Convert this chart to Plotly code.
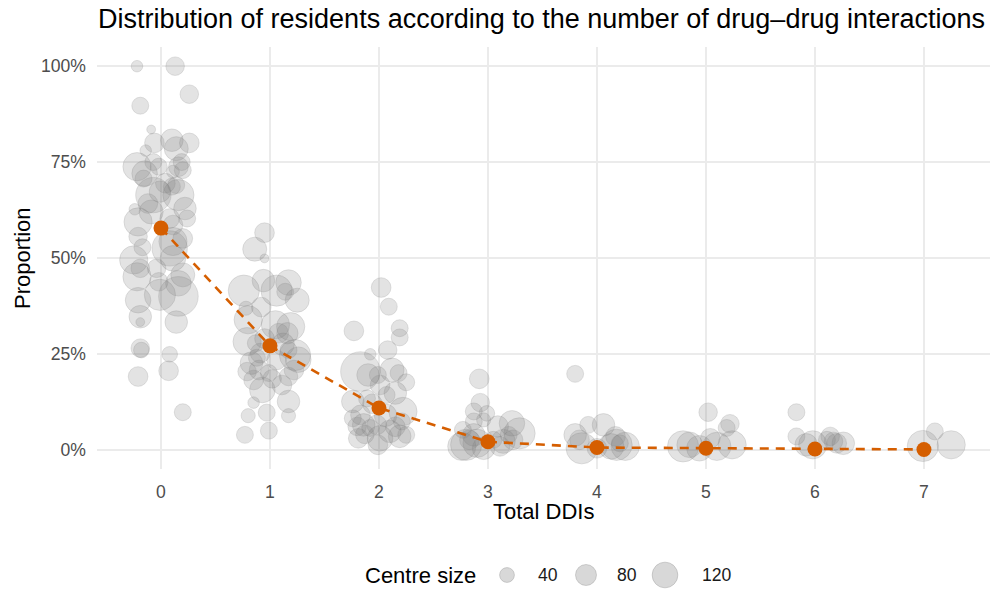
import plotly.graph_objects as go

# ---------------- data ----------------
# Per-centre proportion of residents for each number of DDIs (jittered horizontally)
ddi_count = (
    [0] * 58 + [1] * 43 + [2] * 36 + [3] * 21 + [4] * 12 + [5] * 9 + [6] * 9 + [7] * 3
)
jitter = [
    # 0 DDIs
    -0.22, 0.13, 0.26, -0.19, -0.09, -0.06, 0.10, 0.26, -0.14, 0.14,
    -0.22, -0.15, -0.07, -0.02, 0.19, 0.20, 0.16, 0.11, -0.16, 0.04,
    0.14, -0.07, -0.01, 0.16, 0.10, -0.12, -0.09, -0.24, 0.22, 0.24,
    -0.21, 0.08, 0.11, -0.21, 0.20, 0.11, -0.17, 0.08, -0.25, -0.19,
    -0.22, -0.04, 0.11, 0.20, -0.01, 0.16, 0.16, -0.02, -0.21, -0.19,
    -0.19, 0.14, -0.19, -0.18, 0.08, 0.07, -0.21, 0.20,
    # 1 DDI
    -0.05, -0.14, -0.05, -0.06, -0.24, 0.06, 0.17, 0.14, 0.25, -0.08,
    -0.22, -0.20, 0.05, 0.19, 0.16, 0.08, -0.21, -0.13, 0.23, -0.09,
    0.06, 0.17, -0.17, -0.21, -0.10, 0.22, -0.15, -0.01, 0.17, -0.07,
    0.11, 0.17, -0.15, -0.03, -0.20, 0.17, -0.01, -0.23, -0.05, 0.12,
    -0.12, 0.02, 0.26,
    # 2 DDIs
    0.02, 0.09, -0.23, 0.19, 0.19, 0.08, -0.08, -0.17, -0.10, 0.12,
    0.18, -0.01, 0.25, 0.01, -0.24, -0.11, 0.15, 0.22, 0.07, -0.17,
    -0.14, -0.02, -0.20, 0.10, 0.19, 0.01, -0.08, -0.19, 0.21, -0.01,
    -0.24, 0.25, -0.06, 0.06, 0.15, -0.13,
    # 3 DDIs
    -0.08, -0.07, -0.13, -0.01, -0.04, -0.13, 0.22, 0.09, -0.23, 0.29,
    -0.13, -0.24, -0.10, 0.14, 0.23, -0.04, 0.11, -0.17, 0.05, 0.19,
    -0.20,
    # 4 DDIs
    -0.20, -0.20, -0.08, 0.06, -0.16, 0.17, 0.26, 0.13, -0.14, 0.00,
    0.21, 0.18,
    # 5 DDIs
    0.02, 0.22, 0.19, -0.21, -0.15, 0.04, 0.10, 0.24, -0.06,
    # 6 DDIs
    -0.17, -0.17, -0.08, 0.14, 0.11, 0.26, -0.02, 0.20, 0.17,
    # 7 DDIs
    -0.01, 0.10, 0.25,
]
proportion = [
    # 0 DDIs
    1.000, 1.000, 0.927, 0.897, 0.835, 0.800, 0.807, 0.800, 0.780, 0.785,
    0.738, 0.720, 0.750, 0.738, 0.750, 0.729, 0.738, 0.725, 0.707, 0.695,
    0.690, 0.664, 0.673, 0.664, 0.686, 0.642, 0.620, 0.627, 0.629, 0.603,
    0.594, 0.603, 0.586, 0.556, 0.551, 0.543, 0.528, 0.525, 0.495, 0.473,
    0.451, 0.473, 0.499, 0.456, 0.404, 0.400, 0.434, 0.438, 0.390, 0.347,
    0.333, 0.333, 0.265, 0.260, 0.249, 0.206, 0.191, 0.098,
    # 1 DDI
    0.566, 0.523, 0.499, 0.441, 0.415, 0.415, 0.436, 0.412, 0.390, 0.372,
    0.369, 0.339, 0.326, 0.321, 0.304, 0.304, 0.282, 0.278, 0.247, 0.252,
    0.234, 0.260, 0.226, 0.204, 0.208, 0.208, 0.182, 0.200, 0.191, 0.156,
    0.169, 0.126, 0.123, 0.097, 0.089, 0.089, 0.050, 0.039, 0.290, 0.275,
    0.240, 0.185, 0.235,
    # 2 DDIs
    0.423, 0.373, 0.310, 0.317, 0.293, 0.260, 0.249, 0.204, 0.195, 0.208,
    0.200, 0.195, 0.176, 0.169, 0.126, 0.134, 0.148, 0.100, 0.143, 0.091,
    0.065, 0.065, 0.061, 0.048, 0.035, 0.030, 0.057, 0.030, 0.074, 0.013,
    0.082, 0.039, 0.120, 0.090, 0.060, 0.040,
    # 3 DDIs
    0.185, 0.123, 0.100, 0.095, 0.078, 0.074, 0.069, 0.061, 0.052, 0.043,
    0.039, 0.009, 0.017, 0.022, 0.026, 0.004, 0.009, 0.026, 0.026, 0.039,
    0.013,
    # 4 DDIs
    0.198, 0.039, 0.065, 0.065, 0.026, 0.035, 0.009, 0.009, 0.004, 0.004,
    0.017, 0.013,
    # 5 DDIs
    0.098, 0.068, 0.057, 0.009, 0.013, 0.030, 0.009, 0.013, 0.004,
    # 6 DDIs
    0.098, 0.035, 0.013, 0.035, 0.026, 0.017, 0.013, 0.017, 0.022,
    # 7 DDIs
    0.010, 0.048, 0.013,
]
centre_size = [
    # 0 DDIs
    12, 31, 31, 26, 7, 35, 46, 35, 12, 52,
    72, 59, 26, 26, 26, 26, 35, 15, 26, 35,
    26, 113, 41, 88, 26, 35, 52, 12, 46, 26,
    72, 35, 35, 31, 35, 72, 26, 113, 72, 31,
    72, 31, 59, 52, 88, 142, 59, 31, 59, 46,
    7, 46, 31, 22, 22, 35, 35, 26,
    # 1 DDI
    35, 52, 7, 46, 88, 88, 59, 26, 52, 35,
    18, 72, 72, 72, 41, 35, 72, 26, 88, 35,
    35, 26, 46, 31, 35, 35, 35, 26, 31, 59,
    35, 46, 12, 26, 18, 18, 26, 26, 35, 46,
    26, 31, 59,
    # 2 DDIs
    35, 26, 35, 26, 26, 31, 12, 142, 46, 52,
    26, 26, 26, 35, 46, 26, 46, 72, 26, 35,
    46, 35, 31, 46, 46, 59, 26, 35, 26, 35,
    26, 26, 35, 46, 35, 31,
    # 3 DDIs
    35, 31, 26, 22, 18, 26, 59, 41, 26, 88,
    46, 72, 72, 52, 35, 46, 35, 35, 26, 26,
    88,
    # 4 DDIs
    26, 46, 26, 46, 35, 35, 72, 59, 88, 35,
    26, 88,
    # 5 DDIs
    31, 31, 26, 88, 59, 35, 72, 72, 59,
    # 6 DDIs
    26, 26, 46, 31, 26, 46, 72, 35, 31,
    # 7 DDIs
    88, 26, 72,
]

# Overall proportion of residents per number of DDIs
mean_ddi = [0, 1, 2, 3, 4, 5, 6, 7]
mean_prop = [0.578, 0.271, 0.109, 0.021, 0.006, 0.004, 0.002, 0.001]

x_ticks = [0, 1, 2, 3, 4, 5, 6, 7]
y_ticks = [0, 0.25, 0.5, 0.75, 1.0]
y_tick_labels = ["0%", "25%", "50%", "75%", "100%"]
legend_sizes = [40, 80, 120]

# ---------------- styling ----------------
FONT = "Liberation Sans, Arial, Helvetica, sans-serif"
BUBBLE = "rgba(127,127,127,0.3)"
ORANGE = "#D55E00"
SIZEREF = 0.181  # diameter(px) = sqrt(size / SIZEREF)
BASE = 22

# the page's body margin is removed (see post_script), so the figure fills the window
W, H = 1001, 589
ML, MR, MT, MB = 97, 11, 47, 120
PW, PH = W - ML - MR, H - MT - MB


def px_to_paper_x(px):
    return (px - ML) / PW


def px_to_paper_y(py):
    return (H - MB - py) / PH


fig = go.Figure()

fig.add_trace(go.Scatter(
    x=[d + j for d, j in zip(ddi_count, jitter)],
    y=proportion,
    mode="markers",
    marker=dict(
        size=centre_size,
        sizemode="area",
        sizeref=SIZEREF,
        color=BUBBLE,
        line=dict(color=BUBBLE, width=1),
    ),
    hoverinfo="skip",
    showlegend=False,
))

fig.add_trace(go.Scatter(
    x=mean_ddi, y=mean_prop, mode="lines",
    line=dict(color=ORANGE, width=2.6, dash="9px,7px"),
    hoverinfo="skip", showlegend=False,
))
fig.add_trace(go.Scatter(
    x=mean_ddi, y=mean_prop, mode="markers",
    marker=dict(color=ORANGE, size=15, line=dict(width=0)),
    hoverinfo="skip", showlegend=False,
))

axis_common = dict(
    showgrid=True, gridcolor="#ebebeb", gridwidth=1.4,
    zeroline=False, showline=False, ticks="",
    tickfont=dict(family=FONT, size=0.8 * BASE, color="#4d4d4d"),
)

fig.update_xaxes(
    range=[-0.587, 7.606], tickvals=x_ticks, ticktext=[str(v) for v in x_ticks],
    ticklabelstandoff=10, **axis_common,
)
fig.update_yaxes(
    range=[-0.05, 1.05], tickvals=y_ticks, ticktext=y_tick_labels,
    ticklabelstandoff=10, **axis_common,
)

annotations = [
    dict(text="Distribution of residents according to the number of drug\u2013drug interactions",
         x=px_to_paper_x(96), y=px_to_paper_y(19), xref="paper", yref="paper",
         xanchor="left", yanchor="middle", showarrow=False,
         font=dict(family=FONT, size=27, color="black")),
    dict(text="Total DDIs", x=0.5, y=px_to_paper_y(511), xref="paper", yref="paper",
         xanchor="center", yanchor="middle", showarrow=False,
         font=dict(family=FONT, size=BASE, color="black")),
    dict(text="Proportion", x=px_to_paper_x(22), y=0.5, xref="paper", yref="paper",
         xanchor="center", yanchor="middle", showarrow=False, textangle=-90,
         font=dict(family=FONT, size=BASE, color="black")),
    dict(text="Centre size", x=px_to_paper_x(363), y=px_to_paper_y(575),
         xref="paper", yref="paper", xanchor="left", yanchor="middle", showarrow=False,
         font=dict(family=FONT, size=BASE, color="black")),
]

shapes = []
legend_centres = [507, 586, 665]
label_left = [536, 615, 700]
for v, cx, lx in zip(legend_sizes, legend_centres, label_left):
    d = (v / SIZEREF) ** 0.5
    shapes.append(dict(
        type="circle", xref="paper", yref="paper",
        xsizemode="pixel", ysizemode="pixel",
        xanchor=px_to_paper_x(cx), yanchor=px_to_paper_y(575),
        x0=-d / 2, x1=d / 2, y0=-d / 2, y1=d / 2,
        fillcolor=BUBBLE, line=dict(color=BUBBLE, width=1), layer="above",
    ))
    annotations.append(dict(
        text=str(v), x=px_to_paper_x(lx), y=px_to_paper_y(575),
        xref="paper", yref="paper", xanchor="left", yanchor="middle", showarrow=False,
        font=dict(family=FONT, size=0.8 * BASE, color="#1a1a1a"),
    ))

fig.update_layout(
    width=W, height=H,
    margin=dict(l=ML, r=MR, t=MT, b=MB, pad=0),
    paper_bgcolor="white", plot_bgcolor="white",
    annotations=annotations, shapes=shapes,
    showlegend=False,
    font=dict(family=FONT),
)

fig.write_html(
    "out.html",
    config={"displayModeBar": False, "staticPlot": True},
    post_script="document.body.style.margin='0';document.body.style.overflow='hidden';",
)
